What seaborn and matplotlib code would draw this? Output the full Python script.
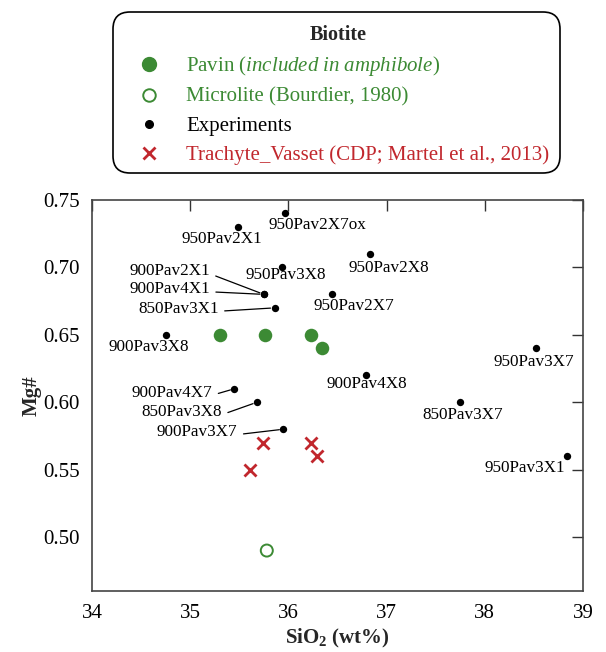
import matplotlib
matplotlib.use("Agg")
import matplotlib.pyplot as plt
import seaborn as sns
import pandas as pd
from matplotlib.lines import Line2D
from matplotlib.patches import FancyBboxPatch

# ---------------- data ----------------
pavin_sio2 = [35.30, 35.76, 36.23, 36.34]
pavin_mg = [0.65, 0.65, 0.65, 0.64]

micro_sio2 = [35.78]
micro_mg = [0.49]

exp_names = ["950Pav2X7ox", "950Pav2X1", "950Pav2X8", "950Pav3X8", "900Pav2X1",
             "900Pav4X1", "850Pav3X1", "950Pav2X7", "900Pav3X8", "900Pav4X8",
             "900Pav4X7", "850Pav3X8", "900Pav3X7", "950Pav3X7", "850Pav3X7",
             "950Pav3X1"]
exp_sio2 = [35.97, 35.49, 36.83, 35.93, 35.75, 35.75, 35.86, 36.44, 34.75, 36.79,
            35.45, 35.68, 35.95, 38.52, 37.75, 38.84]
exp_mg = [0.74, 0.73, 0.71, 0.70, 0.68, 0.68, 0.67, 0.68, 0.65, 0.62,
          0.61, 0.60, 0.58, 0.64, 0.60, 0.56]

tra_sio2 = [35.74, 36.23, 36.29, 35.61]
tra_mg = [0.57, 0.57, 0.56, 0.55]

x_ticks = [34, 35, 36, 37, 38, 39]
y_ticks = [0.50, 0.55, 0.60, 0.65, 0.70, 0.75]

# label offsets in pixels (dx right, dy down), alignment, leader line
label_style = {
    "950Pav2X7ox": (32, 12, "center", False),
    "950Pav2X1": (-16, 12, "center", False),
    "950Pav2X8": (19, 14, "center", False),
    "950Pav3X8": (4, 8, "center", False),
    "900Pav2X1": (-54, -23, "right", True),
    "900Pav4X1": (-54, -5, "right", True),
    "850Pav3X1": (-56, 1, "right", True),
    "950Pav2X7": (22, 12, "center", False),
    "900Pav3X8": (-17, 12, "center", False),
    "900Pav4X8": (1, 9, "center", False),
    "900Pav4X7": (-22, 4, "right", True),
    "850Pav3X8": (-35, 10, "right", True),
    "900Pav3X7": (-46, 3, "right", True),
    "950Pav3X7": (-2, 14, "center", False),
    "850Pav3X7": (2, 13, "center", False),
    "950Pav3X1": (-42, 12, "center", False),
}

GREEN = "#3c8a34"
RED = "#c1272d"

sns.set_style("white")
plt.rcParams["font.family"] = ["Liberation Serif", "DejaVu Serif"]
plt.rcParams["mathtext.fontset"] = "custom"
plt.rcParams["mathtext.rm"] = "Liberation Serif"
plt.rcParams["mathtext.it"] = "Liberation Serif:italic"
plt.rcParams["mathtext.bf"] = "Liberation Serif:bold"

DPI = 100
fig = plt.figure(figsize=(6.06, 6.52), dpi=DPI)
W, H = 606, 652
ax = fig.add_axes([92 / W, 1 - 591 / H, (583 - 92) / W, (591 - 200) / H])

df_p = pd.DataFrame({"x": pavin_sio2, "y": pavin_mg})
df_m = pd.DataFrame({"x": micro_sio2, "y": micro_mg})
df_e = pd.DataFrame({"x": exp_sio2, "y": exp_mg, "name": exp_names})
df_t = pd.DataFrame({"x": tra_sio2, "y": tra_mg})

sns.scatterplot(data=df_p, x="x", y="y", ax=ax, color=GREEN, s=95,
                edgecolor=GREEN, linewidth=0, zorder=3)
sns.scatterplot(data=df_m, x="x", y="y", ax=ax, facecolor="none", s=75,
                edgecolor=GREEN, linewidth=1.4, zorder=3)
sns.scatterplot(data=df_e, x="x", y="y", ax=ax, color="black", s=28,
                edgecolor="black", linewidth=0, zorder=4)
sns.scatterplot(data=df_t, x="x", y="y", ax=ax, color=RED, marker="x", s=75,
                linewidth=2.0, zorder=3)

px2pt = 72.0 / DPI
for name, xv, yv in zip(exp_names, exp_sio2, exp_mg):
    dx, dy, ha, leader = label_style[name]
    kw = {}
    if leader:
        kw["arrowprops"] = dict(arrowstyle="-", color="black", lw=0.9,
                                shrinkA=2, shrinkB=3, relpos=(1.0, 0.35))
    ax.annotate(name, (xv, yv), xytext=(dx * px2pt, -dy * px2pt),
                textcoords="offset points", ha=ha, va="center",
                fontsize=12.3, color="black", zorder=5, **kw)

ax.set_xlim(34, 39)
ax.set_ylim(0.46, 0.75)
ax.set_xticks(x_ticks)
ax.set_yticks(y_ticks)
ax.set_xticklabels([str(t) for t in x_ticks])
ax.set_yticklabels([f"{t:.2f}" for t in y_ticks])
ax.tick_params(direction="in", length=8, width=1.0, top=True, right=True,
               labelsize=15, colors="#333333", labelcolor="black")
ax.tick_params(axis="y", pad=9)
ax.tick_params(axis="x", pad=9)
for sp in ax.spines.values():
    sp.set_color("#444444")
    sp.set_linewidth(1.2)

ax.set_xlabel(r"SiO$_\mathbf{2}$ (wt%)", fontsize=15, fontweight="bold", labelpad=3)
ax.set_ylabel("Mg#", fontsize=15, fontweight="bold", labelpad=1)

# legend frame (rounded box), in inches
box = FancyBboxPatch((113 / DPI, (H - 173) / DPI), (560 - 113) / DPI, (173 - 12) / DPI,
                     boxstyle="round,pad=0,rounding_size=0.17",
                     transform=fig.dpi_scale_trans, facecolor="white",
                     edgecolor="black", linewidth=1.2, zorder=1)
fig.add_artist(box)

handles = [
    Line2D([], [], ls="none", marker="o", ms=10, color=GREEN, mec=GREEN),
    Line2D([], [], ls="none", marker="o", ms=9, mfc="none", mec=GREEN, mew=1.4),
    Line2D([], [], ls="none", marker="o", ms=5.5, color="black"),
    Line2D([], [], ls="none", marker="x", ms=9, color=RED, mew=2.0),
]
labels = [r"Pavin ($\mathit{included\ in\ amphibole}$)",
          "Microlite (Bourdier, 1980)",
          "Experiments",
          "Trachyte_Vasset (CDP; Martel et al., 2013)"]
leg = fig.legend(handles, labels, loc="upper center",
                 bbox_to_anchor=(338 / W, 1 - 10 / H), bbox_transform=fig.transFigure,
                 title="Biotite", title_fontproperties={"weight": "bold", "size": 14.5},
                 fontsize=15, frameon=False,
                 handletextpad=0.75, handlelength=2.1, labelspacing=0.45,
                 borderpad=0.7, borderaxespad=0, alignment="center")
leg.set_zorder(2)
for txt, c in zip(leg.get_texts(), [GREEN, GREEN, "black", RED]):
    txt.set_color(c)

fig.savefig("out.png", dpi=DPI)
